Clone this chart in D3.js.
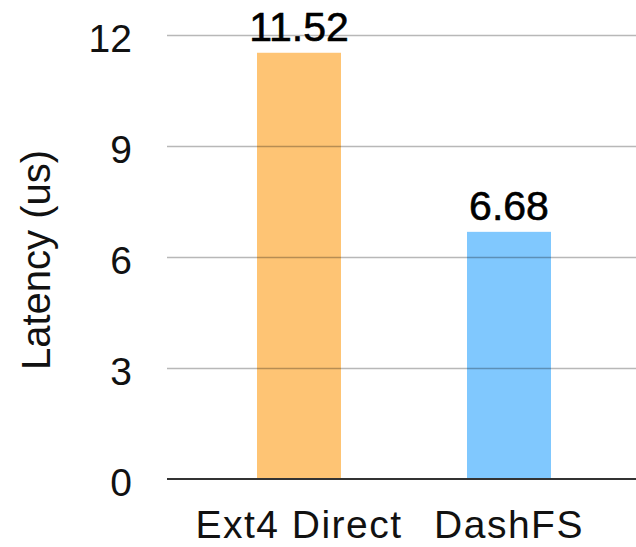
<!DOCTYPE html>
<html>
<head>
<meta charset="utf-8">
<script src="https://cdn.jsdelivr.net/npm/d3@7"></script>
<style>
  html, body { margin: 0; padding: 0; background: #fff; }
  svg { display: block; font-family: "Liberation Sans", Arial, Helvetica, sans-serif; }
</style>
</head>
<body>
<svg id="chart" width="636" height="547"></svg>
<script>
// Latency comparison data
const categories = ["Ext4 Direct", "DashFS"];
const latency = [11.52, 6.68];
const barColors = ["#FEC474", "#80C8FE"];
const yTicks = [0, 3, 6, 9, 12];
const yLabel = "Latency (us)";

const svg = d3.select("#chart");
const W = 636, H = 547;

const y = d3.scaleLinear().domain([0, 12]).range([479, 35]);
const x = d3.scaleBand()
  .domain(categories)
  .range([152, 656])
  .paddingInner(0.6)
  .paddingOuter(0.5);

const gridX0 = 167, gridX1 = W;

// bars
svg.append("g")
  .selectAll("rect")
  .data(categories)
  .join("rect")
  .attr("x", d => x(d))
  .attr("width", x.bandwidth())
  .attr("y", (d, i) => y(latency[i]))
  .attr("height", (d, i) => y(0) - y(latency[i]))
  .attr("fill", (d, i) => barColors[i]);

// horizontal grid lines drawn over the bars
svg.append("g")
  .selectAll("line")
  .data(yTicks.filter(t => t !== 0))
  .join("line")
  .attr("x1", gridX0)
  .attr("x2", gridX1)
  .attr("y1", d => Math.round(y(d)) + 0.5)
  .attr("y2", d => Math.round(y(d)) + 0.5)
  .attr("stroke", "rgba(0,0,0,0.28)")
  .attr("stroke-width", 1.4);

// baseline
svg.append("line")
  .attr("x1", gridX0)
  .attr("x2", gridX1)
  .attr("y1", y(0))
  .attr("y2", y(0))
  .attr("stroke", "#333")
  .attr("stroke-width", 2.2);

// y tick labels
svg.append("g")
  .selectAll("text")
  .data(yTicks)
  .join("text")
  .attr("x", 132)
  .attr("y", d => y(d) + 17)
  .attr("text-anchor", "end")
  .attr("font-size", 39)
  .attr("fill", "#111")
  .text(d => d);

// x category labels
svg.append("g")
  .selectAll("text")
  .data(categories)
  .join("text")
  .attr("x", d => x(d) + x.bandwidth() / 2)
  .attr("y", 538)
  .attr("text-anchor", "middle")
  .attr("font-size", 39)
  .attr("letter-spacing", 1.5)
  .attr("fill", "#111")
  .text(d => d);

// value labels above bars
svg.append("g")
  .selectAll("text")
  .data(categories)
  .join("text")
  .attr("x", d => x(d) + x.bandwidth() / 2)
  .attr("y", (d, i) => y(latency[i]) - 12)
  .attr("text-anchor", "middle")
  .attr("font-size", 41)
  .attr("fill", "#000")
  .attr("stroke", "#000")
  .attr("stroke-width", 0.6)
  .text((d, i) => latency[i].toFixed(2));

// y axis title
svg.append("text")
  .attr("transform", "translate(50,260) rotate(-90)")
  .attr("text-anchor", "middle")
  .attr("font-size", 40)
  .attr("fill", "#111")
  .text(yLabel);
</script>
</body>
</html>
